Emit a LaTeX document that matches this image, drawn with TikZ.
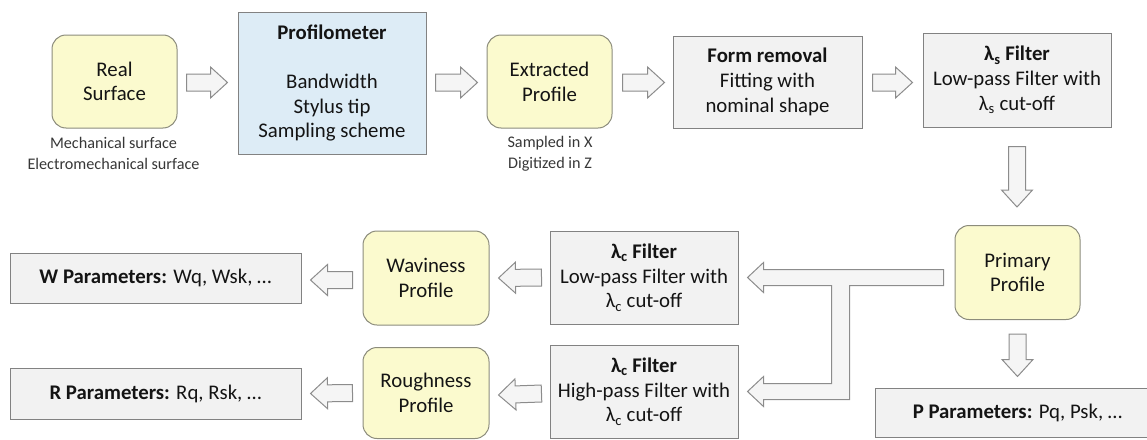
\documentclass[tikz,border=0pt]{standalone}
\usepackage{fontspec}
\setmainfont{Carlito}
\usetikzlibrary{calc,positioning}

\definecolor{boxyel}{RGB}{251,250,206}
\definecolor{yeledge}{RGB}{140,140,124}
\definecolor{boxblue}{RGB}{221,236,246}
\definecolor{boxgray}{RGB}{242,242,242}
\definecolor{edgegray}{RGB}{130,130,130}
\definecolor{arrfill}{RGB}{245,245,245}
\definecolor{arredge}{RGB}{140,140,140}
\definecolor{txtdark}{RGB}{20,20,20}
\definecolor{notegray}{RGB}{55,55,55}

\tikzset{
  base/.style={align=center,inner sep=0pt,line width=1pt,text=txtdark,
    font=\fontsize{20.8}{24.7}\selectfont},
  surf/.style={base,draw=yeledge,fill=boxyel,rounded corners=14pt},
  instr/.style={base,draw=edgegray,fill=boxblue},
  proc/.style={base,draw=edgegray,fill=boxgray},
  note/.style={align=center,text=notegray,font=\fontsize{16.2}{21}\selectfont},
  blk/.style={draw=arredge,fill=arrfill,line width=1pt,line join=miter,
    to path={($(\tikztostart)!8.5pt!90:(\tikztotarget)$)
      -- ($(\tikztotarget)!17pt!(\tikztostart)!8.5pt!-90:(\tikztostart)$)
      -- ($(\tikztotarget)!17pt!(\tikztostart)!15.5pt!-90:(\tikztostart)$)
      -- (\tikztotarget)
      -- ($(\tikztotarget)!17pt!(\tikztostart)!15.5pt!90:(\tikztostart)$)
      -- ($(\tikztotarget)!17pt!(\tikztostart)!8.5pt!90:(\tikztostart)$)
      -- ($(\tikztostart)!8.5pt!-90:(\tikztotarget)$) -- cycle}}
}
\newcommand{\lams}{λ\textsubscript{s}}
\newcommand{\lamc}{λ\textsubscript{c}}

\begin{document}
\begin{tikzpicture}[x=1pt,y=-1pt]
  \useasboundingbox (0,0) rectangle (1147,439);
  % top row
  \node[surf,minimum width=125,minimum height=93] (real) at (114.5,81.5) {Real\\Surface};
  \node[note] (realnote) at (113.5,153.5) {Mechanical surface\\Electromechanical surface};
  \node[instr,minimum width=188,minimum height=142] (prof) at (332,83)
    {\textbf{Profilometer}\\[24.7pt]Bandwidth\\Stylus tip\\Sampling scheme};
  \node[surf,minimum width=125,minimum height=93] (ext) at (549.5,81.5) {Extracted\\Profile};
  \node[note] (extnote) at (550,153.5) {Sampled in X\\Digitized in Z};
  \node[proc,minimum width=189,minimum height=92] (form) at (767.5,82)
    {\textbf{Form removal}\\Fitting with\\nominal shape};
  \node[proc,minimum width=188,minimum height=94] (lsf) at (1017,80)
    {\textbf{\lams{} Filter}\\Low-pass Filter with\\\lams{} cut-off};
  % right column
  \node[surf,minimum width=125,minimum height=94] (prim) at (1017.5,272.5) {Primary\\Profile};
  \node[proc,minimum width=285,minimum height=49] (ppar) at (1017.5,412.5)
    {\textbf{P Parameters:} Pq, Psk, …};
  % lower rows
  \node[proc,minimum width=188,minimum height=93] (lcl) at (644,277.5)
    {\textbf{\lamc{} Filter}\\Low-pass Filter with\\\lamc{} cut-off};
  \node[proc,minimum width=188,minimum height=93] (lch) at (644,391.5)
    {\textbf{\lamc{} Filter}\\High-pass Filter with\\\lamc{} cut-off};
  \node[surf,minimum width=126,minimum height=94] (wav) at (426,278) {Waviness\\Profile};
  \node[surf,minimum width=126,minimum height=91] (rough) at (426,393) {Roughness\\Profile};
  \node[proc,minimum width=291,minimum height=50] (wpar) at (155.5,278)
    {\textbf{W Parameters:} Wq, Wsk, …};
  \node[proc,minimum width=291,minimum height=51] (rpar) at (155.5,393.5)
    {\textbf{R Parameters:} Rq, Rsk, …};

  \draw[blk] ($(real.east)+(9,1)$) to ($(prof.west)+(-10,-0.5)$);
  \draw[blk] ($(prof.east)+(9,-0.5)$) to ($(ext.west)+(-9,1)$);
  \draw[blk] ($(ext.east)+(10,1)$) to ($(form.west)+(-8,0.5)$);
  \draw[blk] ($(form.east)+(10,0.5)$) to ($(lsf.west)+(-10,2.5)$);
  \draw[blk] ($(lsf.south)+(0,19)$) to ($(lsf.south |- prim.north)+(0,-18)$);
  \draw[blk] ($(prim.south)+(0,14)$) to ($(prim.south |- ppar.north)+(0,-11)$);
  \draw[blk] ($(lcl.west)+(-8,0)$) to ($(wav.east)+(9,0)$);
  \draw[blk] ($(lch.west)+(-8,2)$) to ($(rough.east)+(9,2)$);
  \draw[blk] ($(wav.west)+(-10,2)$) to ($(wpar.east)+(9,2)$);
  \draw[blk] ($(rough.west)+(-10,0)$) to ($(rpar.east)+(9,0)$);
  % split connector from the primary profile
  \coordinate (t1) at ($(lcl.east)+(9,0)$);
  \coordinate (t2) at ($(lch.east)+(9,0)$);
  \coordinate (tr) at ($(prim.west)+(-11,0)$);
  \draw[draw=arredge,fill=arrfill,line width=1pt,line join=miter]
    (t1) -- ++(16,-15) -- ++(0,7) -- ($(t1 -| tr)+(0,-8)$) -- ($(t1 -| tr)+(0,8)$)
    -- ($(t1)+(102,8)$) -- ($(t2)+(102,8)$) -- ($(t2)+(16,8)$) -- ++(0,7) -- (t2)
    -- ++(16,-15) -- ++(0,7) -- ($(t2)+(84,-8)$) -- ($(t1)+(84,8)$) -- ($(t1)+(16,8)$)
    -- ++(0,7) -- cycle;
\end{tikzpicture}
\end{document}
